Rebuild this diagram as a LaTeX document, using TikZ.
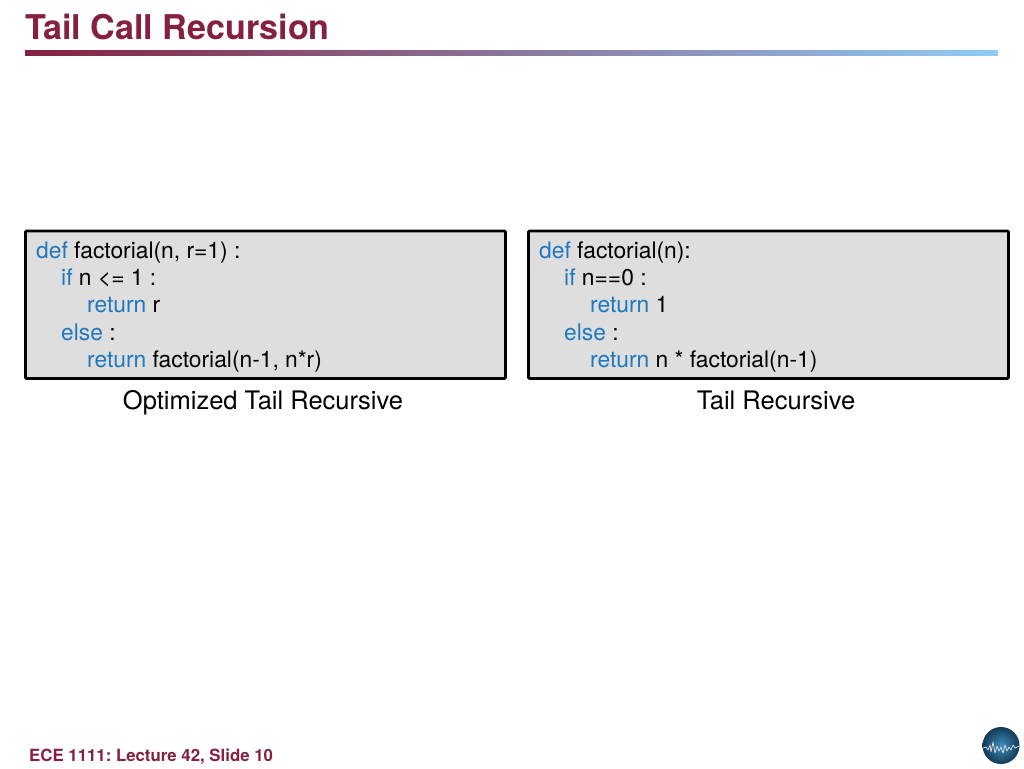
\documentclass[tikz,border=0pt]{standalone}
\usepackage{fontspec}
\setmainfont{TeX Gyre Heros}
\frenchspacing
\definecolor{titlered}{HTML}{85203F}
\definecolor{barblue}{HTML}{90CBF7}
\definecolor{kw}{HTML}{1F78BE}
\definecolor{boxgray}{HTML}{DEDEDE}
\definecolor{globein}{HTML}{3F8FBE}
\definecolor{globeout}{HTML}{123A55}
\tikzset{
  x=1pt,y=-1pt,
  codebox/.style={draw=black,fill=boxgray,line width=2.6pt,rounded corners=1pt},
  codeline/.style={anchor=base west,inner sep=0pt,font=\fontsize{22.8}{23}\selectfont,text=black},
  caption/.style={anchor=base,inner sep=0pt,font=\fontsize{25.5}{26}\selectfont,text=black}
}
\newcommand{\kwd}[1]{\textcolor{kw}{#1}}
\begin{document}
\begin{tikzpicture}
\useasboundingbox (0,0) rectangle (1024,768);
\fill[white] (0,0) rectangle (1024,768);
\node[anchor=base west,inner sep=0pt,font=\bfseries\fontsize{34.1}{35}\selectfont,text=titlered] (title) at (25,40) {Tail Call Recursion};
\shade[left color=titlered,right color=barblue] (25,51) rectangle (998,56);
\draw[codebox] (25.5,231) rectangle (505.5,378.5);
\draw[codebox] (528.5,231) rectangle (1008.5,378.5);
\node[codeline] (a1) at (36,258) {\kwd{def} factorial(n, r=1) :};
\node[codeline] (a2) at (61,285) {\kwd{if} n <= 1 :};
\node[codeline] (a3) at (87,312.5) {\kwd{return} r};
\node[codeline] (a4) at (61,340) {\kwd{else} :};
\node[codeline] (a5) at (87,367) {\kwd{return} factorial(n-1, n*r)};
\node[codeline] (b1) at (539,258) {\kwd{def} factorial(n):};
\node[codeline] (b2) at (564,285) {\kwd{if} n==0 :};
\node[codeline] (b3) at (590,312.5) {\kwd{return} 1};
\node[codeline] (b4) at (564,340) {\kwd{else} :};
\node[codeline] (b5) at (590,367) {\kwd{return} n * factorial(n-1)};
\node[caption] (c1) at (263,409) {Optimized Tail Recursive};
\node[caption] (c2) at (776,409) {Tail Recursive};
\node[anchor=base west,inner sep=0pt,font=\bfseries\fontsize{16.8}{17}\selectfont,text=titlered] (foot) at (29,761) {ECE 1111: Lecture 42, Slide 10};
\shade[inner color=globein,outer color=globeout,shading=radial] (1001,745.5) circle (18.5);
\draw[white!80!gray,line width=0.7pt,line join=round] (983,748) -- (986,747) -- (988,750) -- (990,745) -- (991,752) -- (993,742) -- (995,753) -- (997,746) -- (999,751) -- (1001,747) -- (1003,753) -- (1005,745) -- (1007,751) -- (1009,747) -- (1011,750) -- (1013,745) -- (1015,748) -- (1019,746);
\end{tikzpicture}
\end{document}
